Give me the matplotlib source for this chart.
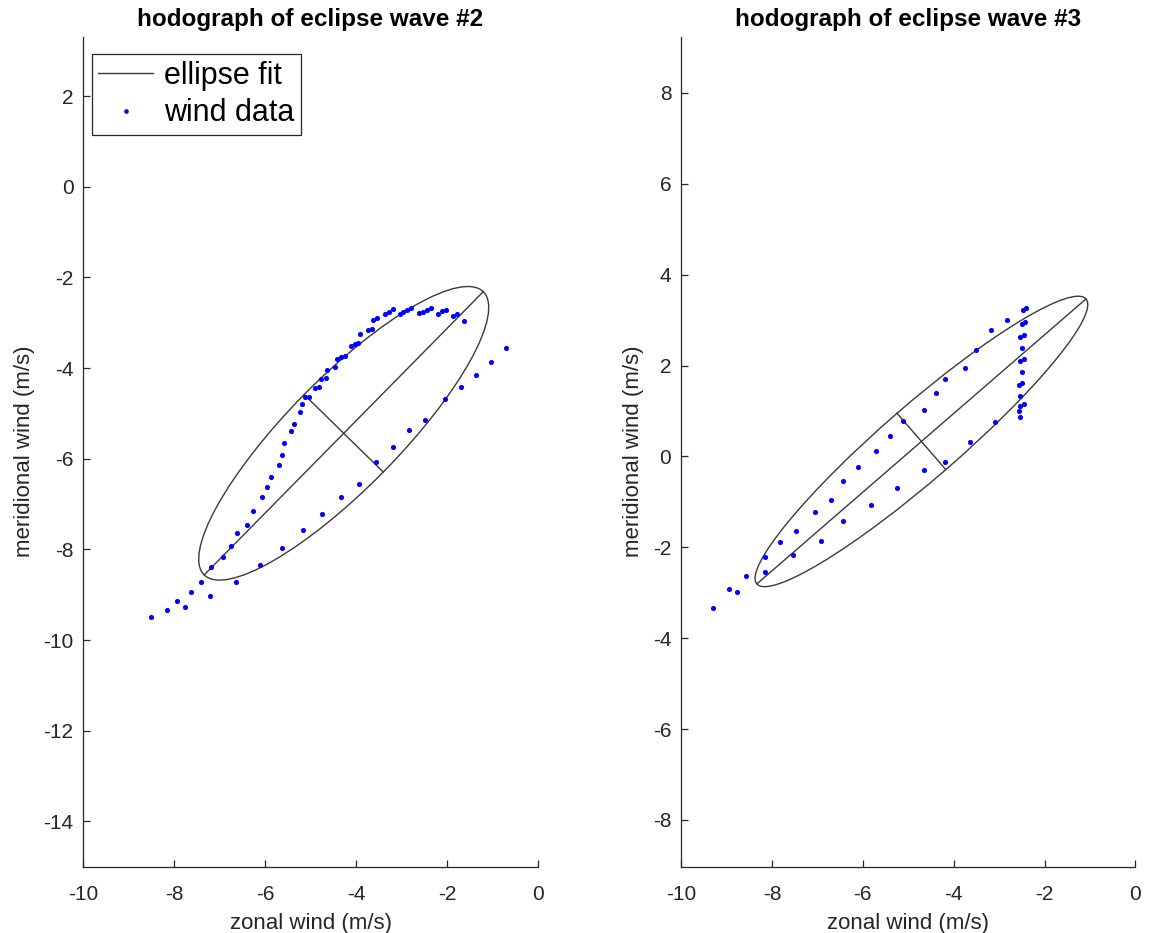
import numpy as np
import matplotlib
matplotlib.use("Agg")
import matplotlib.pyplot as plt
from matplotlib.patches import Ellipse

plt.rcParams['font.family'] = ['Liberation Sans', 'DejaVu Sans']
plt.rcParams['axes.unicode_minus'] = False

# wave #2 wind data (m/s)
u2 = [-8.51, -8.16, -7.94, -7.77, -7.62, -7.42, -7.21, -7.20, -6.92, -6.76,
      -6.64, -6.62, -6.40, -6.27, -6.12, -6.06, -5.96, -5.87, -5.70, -5.63,
      -5.58, -5.63, -5.42, -5.36, -5.23, -5.18, -5.17, -5.13, -5.03, -4.91,
      -4.82, -4.76, -4.67, -4.75, -4.63, -4.46, -4.41, -4.32, -4.24, -4.33,
      -4.12, -4.03, -3.95, -3.93, -3.92, -3.74, -3.65, -3.62, -3.54, -3.56,
      -3.36, -3.27, -3.19, -3.19, -3.03, -2.96, -2.88, -2.79, -2.84, -2.62,
      -2.53, -2.44, -2.36, -2.48, -2.19, -2.10, -2.02, -2.05, -1.87, -1.77,
      -1.63, -1.70, -1.36, -1.02, -0.69]
v2 = [-9.50, -9.33, -9.15, -9.27, -8.93, -8.72, -9.04, -8.40, -8.17, -7.92,
      -8.73, -7.64, -7.46, -7.16, -8.34, -6.85, -6.62, -6.40, -6.15, -5.91,
      -5.66, -7.98, -5.39, -5.24, -4.96, -4.80, -7.57, -4.64, -4.63, -4.43,
      -4.41, -4.25, -4.22, -7.23, -4.04, -3.98, -3.81, -3.76, -3.73, -6.84,
      -3.52, -3.48, -3.44, -6.55, -3.25, -3.16, -3.14, -2.93, -2.89, -6.08,
      -2.80, -2.77, -2.70, -5.74, -2.81, -2.76, -2.72, -2.67, -5.37, -2.79,
      -2.77, -2.72, -2.68, -5.14, -2.80, -2.75, -2.72, -4.69, -2.85, -2.81,
      -2.96, -4.42, -4.15, -3.86, -3.55]

# wave #3 wind data (m/s)
u3 = [-9.30, -8.94, -8.76, -8.57, -8.15, -8.15, -7.82, -7.54, -7.46, -7.05,
      -6.91, -6.70, -6.43, -6.43, -6.11, -5.83, -5.71, -5.41, -5.24, -5.12,
      -4.66, -4.65, -4.38, -4.20, -4.20, -3.76, -3.65, -3.52, -3.18, -3.10,
      -2.83, -2.47, -2.40, -2.49, -2.42, -2.53, -2.46, -2.49, -2.53, -2.46,
      -2.50, -2.56, -2.49, -2.55, -2.53, -2.46, -2.57, -2.53]
v3 = [-3.33, -2.91, -2.98, -2.64, -2.22, -2.55, -1.89, -2.17, -1.64, -1.23,
      -1.86, -0.95, -0.54, -1.43, -0.23, -1.07, 0.12, 0.46, -0.70, 0.79,
      1.03, -0.29, 1.39, 1.70, -0.12, 1.95, 0.31, 2.34, 2.78, 0.76,
      3.00, 3.22, 3.26, 2.92, 2.96, 2.62, 2.67, 2.38, 2.09, 2.14,
      1.85, 1.57, 1.61, 1.34, 1.10, 1.15, 0.99, 0.87]

# ellipse fit parameters: center u, center v, semi-major, semi-minor, angle (deg)
fit2 = (-4.27, -5.44, 4.38, 1.22, 45.5)
fit3 = (-4.71, 0.33, 4.79, 0.82, 40.9)

panels = [
    ("hodograph of eclipse wave #2", u2, v2, fit2, (-15, 3.31), range(-14, 3, 2)),
    ("hodograph of eclipse wave #3", u3, v3, fit3, (-9.03, 9.24), range(-8, 9, 2)),
]

fig = plt.figure(figsize=(11.5, 9.33), dpi=100)
lefts = [83.3 / 1150, 681 / 1150]
line_col = '#3a3a3a'

for i, (title, u, v, fit, ylim, yt) in enumerate(panels):
    ax = fig.add_axes([lefts[i], 0.0711, 0.3952, 0.8896])
    cu, cv, a, b, ang = fit
    t = np.deg2rad(ang)
    # major and minor axes of the fitted ellipse
    ax.plot([cu - a * np.cos(t), cu + a * np.cos(t)],
            [cv - a * np.sin(t), cv + a * np.sin(t)],
            color=line_col, lw=1.0, label='ellipse fit')
    ax.plot([cu + b * np.sin(t), cu - b * np.sin(t)],
            [cv - b * np.cos(t), cv + b * np.cos(t)],
            color=line_col, lw=1.0)
    ax.add_patch(Ellipse((cu, cv), 2 * a, 2 * b, angle=ang, fill=False,
                         edgecolor=line_col, lw=1.0))
    ax.plot(u, v, 'o', color='#0000ff', ms=3.7, mec='none', label='wind data')

    ax.set_xlim(-10, 0)
    ax.set_ylim(*ylim)
    ax.set_xticks(range(-10, 1, 2))
    ax.set_yticks(list(yt))
    for s in ['top', 'right']:
        ax.spines[s].set_visible(False)
    for s in ['left', 'bottom']:
        ax.spines[s].set_color('#262626')
        ax.spines[s].set_linewidth(0.9)
    ax.tick_params(axis='both', direction='in', length=5, width=0.9,
                   color='#262626', labelsize=15, labelcolor='#262626')
    ax.tick_params(axis='x', pad=13)
    ax.tick_params(axis='y', pad=7)
    ax.set_title(title, fontsize=17.5, fontweight='bold', pad=8)
    ax.set_xlabel('zonal wind (m/s)', fontsize=16, color='#262626', labelpad=7)
    ax.set_ylabel('meridional wind (m/s)', fontsize=16, color='#262626', labelpad=6)

    if i == 0:
        leg = ax.legend(loc='upper left', bbox_to_anchor=(0.0185, 0.9788),
                        borderaxespad=0, fontsize=22, fancybox=False,
                        edgecolor='#262626', framealpha=1, handlelength=1.8,
                        handletextpad=0.35, borderpad=0.22, labelspacing=0.24,
                        markerscale=0.9)
        leg.get_frame().set_linewidth(0.9)

fig.savefig('out.png', dpi=100)
